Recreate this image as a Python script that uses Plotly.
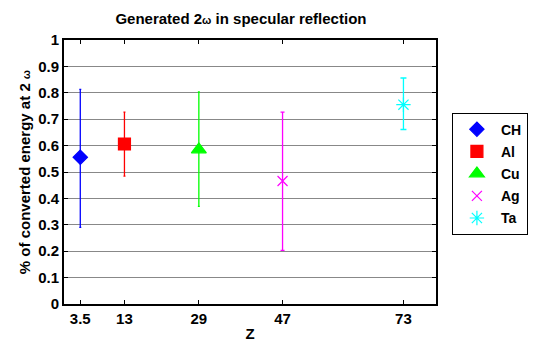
import plotly.graph_objects as go

names = ["CH", "Al", "Cu", "Ag", "Ta"]
z = [3.5, 13, 29, 47, 73]
vals = [0.556, 0.606, 0.585, 0.466, 0.755]
upper = [0.813, 0.727, 0.803, 0.727, 0.856]
lower = [0.290, 0.484, 0.370, 0.203, 0.661]
colors = ["#0000FF", "#FF0000", "#00FF00", "#FF00FF", "#00FFFF"]
symbols = ["diamond", "square", "triangle-up", "x-thin-open", "asterisk-open"]
sizes = [11, 12, 13, 10, 12]
capw = [1, 1, 1, 2, 3]

FONT = "Liberation Sans, Arial, sans-serif"
OMEGA_T = '<span style="font-size:11px">ω</span>'
OMEGA_Y = '<span style="font-size:11px">ω</span>'

fig = go.Figure()
for i in range(len(names)):
    fig.add_trace(go.Scatter(
        x=[z[i]], y=[vals[i]], mode="markers", name=names[i],
        legendgroup=names[i],
        marker=dict(symbol=symbols[i], size=sizes[i], color=colors[i],
                    line=dict(color=colors[i], width=1.2)),
        error_y=dict(type="data", symmetric=False,
                     array=[upper[i] - vals[i]], arrayminus=[vals[i] - lower[i]],
                     color=colors[i], thickness=1.3, width=capw[i]),
    ))

fig.update_layout(
    width=539, height=342,
    margin=dict(l=64, r=102, t=40, b=38),
    paper_bgcolor="white", plot_bgcolor="white",
    font=dict(family=FONT, size=15, color="black", weight="bold"),
    title=dict(text="Generated 2" + OMEGA_T + " in specular reflection", x=0.447, xanchor="center",
               y=0.945, yanchor="middle", font=dict(size=15, weight="bold")),
    showlegend=True,
    legend=dict(x=1.04, xanchor="left", y=0.725, yanchor="top",
                bordercolor="black", borderwidth=1, bgcolor="white",
                itemwidth=38, tracegroupgap=1, font=dict(size=14, weight="bold")),
)
fig.update_xaxes(
    range=[0, 80], tickvals=z, ticktext=["3.5", "13", "29", "47", "73"],
    showgrid=False, zeroline=False, showline=True, linecolor="black", linewidth=2,
    mirror="ticks", ticks="inside", ticklen=4, tickcolor="black", automargin=False,
    title=dict(text="Z", standoff=4, font=dict(size=15, weight="bold")),
    tickfont=dict(size=15, weight="bold"),
)
fig.update_yaxes(
    range=[0, 1], dtick=0.1, tickformat="~g",
    showgrid=True, gridcolor="#888888", gridwidth=1.3, zeroline=False,
    showline=True, linecolor="black", linewidth=2, automargin=False,
    mirror="ticks", ticks="inside", ticklen=4, tickcolor="black",
    title=dict(text="% of converted energy at 2 " + OMEGA_Y, standoff=4,
               font=dict(size=15, weight="bold")),
    tickfont=dict(size=15, weight="bold"),
)

fig.write_html("out.html")
